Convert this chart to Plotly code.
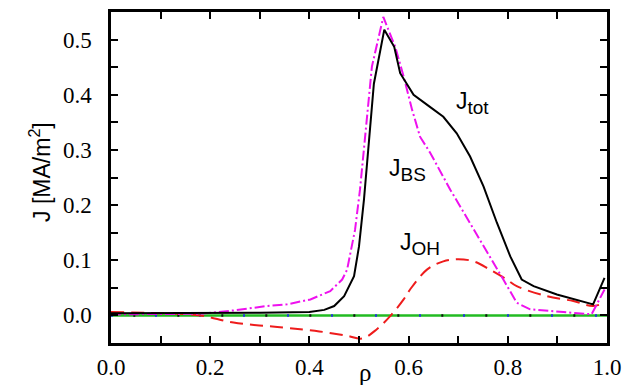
import plotly.graph_objects as go

# Current density profiles vs normalized radius rho
rho_tot = [0.0, 0.10, 0.20, 0.30, 0.40, 0.43, 0.45, 0.47, 0.49, 0.50, 0.51, 0.53, 0.551,
           0.571, 0.583, 0.61, 0.643, 0.67, 0.697, 0.724, 0.751, 0.778, 0.805, 0.828,
           0.852, 0.899, 0.972, 0.995]
j_tot = [0.004, 0.004, 0.004, 0.005, 0.006, 0.010, 0.017, 0.035, 0.071, 0.125, 0.21, 0.42, 0.518,
         0.487, 0.439, 0.40, 0.378, 0.360, 0.330, 0.288, 0.234, 0.168, 0.107, 0.065,
         0.053, 0.038, 0.020, 0.068]

rho_bs = [0.0, 0.10, 0.18, 0.247, 0.314, 0.355, 0.402, 0.442, 0.466, 0.476, 0.492, 0.502,
          0.526, 0.549, 0.573, 0.59, 0.607, 0.623, 0.644, 0.684, 0.724, 0.764, 0.791,
          0.818, 0.845, 0.912, 0.969, 0.995]
j_bs = [0.002, 0.002, 0.003, 0.009, 0.017, 0.020, 0.029, 0.044, 0.065, 0.083, 0.155, 0.228,
        0.451, 0.541, 0.487, 0.433, 0.373, 0.324, 0.294, 0.228, 0.168, 0.107, 0.065,
        0.023, 0.011, 0.006, 0.002, 0.047]

rho_oh = [0.0, 0.10, 0.18, 0.247, 0.348, 0.42, 0.476, 0.506, 0.536, 0.566, 0.59, 0.603,
          0.637, 0.67, 0.70, 0.731, 0.764, 0.798, 0.818, 0.879, 0.932, 0.972, 0.995]
j_oh = [0.006, 0.004, 0.000, -0.013, -0.022, -0.029, -0.037, -0.042, -0.025, 0.002, 0.029, 0.047,
        0.083, 0.098, 0.102, 0.098, 0.083, 0.065, 0.053, 0.035, 0.026, 0.017, 0.023]

rho_zero = [0.0, 1.0]
j_zero = [0.0, 0.0]

SERIF = "Liberation Serif"
SANS = "Liberation Sans"

fig = go.Figure()
fig.add_trace(go.Scatter(x=rho_zero, y=j_zero, mode="lines",
                         line=dict(color="#22bb22", width=2.5), showlegend=False))
fig.add_trace(go.Scatter(x=rho_zero, y=j_zero, mode="lines",
                         line=dict(color="#2233dd", width=2.5, dash="2px,42px"), showlegend=False))
fig.add_trace(go.Scatter(x=[0.045, 1.0], y=j_zero, mode="lines",
                         line=dict(color="#111111", width=2.5, dash="2px,42px"), showlegend=False))
fig.add_trace(go.Scatter(x=rho_oh, y=j_oh, mode="lines", line_shape="spline",
                         line=dict(color="#ee1c1c", width=2, dash="13px,7px"), showlegend=False))
fig.add_trace(go.Scatter(x=rho_bs, y=j_bs, mode="lines",
                         line=dict(color="#ee11ee", width=2, dash="10px,3px,2px,3px"), showlegend=False))
fig.add_trace(go.Scatter(x=rho_tot, y=j_tot, mode="lines",
                         line=dict(color="black", width=2), showlegend=False))


def curve_label(sub):
    return "J<sub><span style='font-size:19px'>%s</span></sub>" % sub


lab_font = dict(family=SANS, size=23, color="black")
fig.add_annotation(x=0.728, y=0.385, text=curve_label("tot"), showarrow=False,
                   font=lab_font, xanchor="center", yanchor="middle")
fig.add_annotation(x=0.598, y=0.263, text=curve_label("BS"), showarrow=False,
                   font=lab_font, xanchor="center", yanchor="middle")
fig.add_annotation(x=0.622, y=0.130, text=curve_label("OH"), showarrow=False,
                   font=lab_font, xanchor="center", yanchor="middle")

# axis titles
fig.add_annotation(xref="paper", yref="paper", x=-0.143, y=0.517,
                   text="J [MA/m<sup>2</sup>]", textangle=-90, showarrow=False,
                   font=dict(family=SANS, size=23, color="black"),
                   xanchor="center", yanchor="middle")
fig.add_annotation(xref="paper", yref="paper", x=0.513, y=-0.088,
                   text="ρ", showarrow=False,
                   font=dict(family=SERIF, size=25, color="black"),
                   xanchor="center", yanchor="middle")

tick_font = dict(family=SERIF, size=23, color="black")
axis_common = dict(showline=True, linecolor="black", linewidth=2.5, mirror="allticks",
                   ticks="inside", ticklen=7, tickwidth=2, tickcolor="black",
                   showgrid=False, zeroline=False, tickfont=tick_font, automargin=False,
                   tickformat=".1f")

fig.update_xaxes(range=[0, 1], tick0=0, dtick=0.2, ticklabelstandoff=2,
                 minor=dict(dtick=0.1, tick0=0, ticks="inside", ticklen=7, tickwidth=2,
                            tickcolor="black", showgrid=False),
                 **axis_common)
fig.update_yaxes(range=[-0.05, 0.55], tick0=0, dtick=0.1, ticklabelstandoff=12,
                 minor=dict(dtick=0.05, tick0=0, ticks="inside", ticklen=7, tickwidth=2,
                            tickcolor="black", showgrid=False),
                 **axis_common)

fig.update_layout(width=625, height=385, margin=dict(l=111, r=18, t=12, b=42),
                  plot_bgcolor="white", paper_bgcolor="white")

fig.write_html("out.html")
